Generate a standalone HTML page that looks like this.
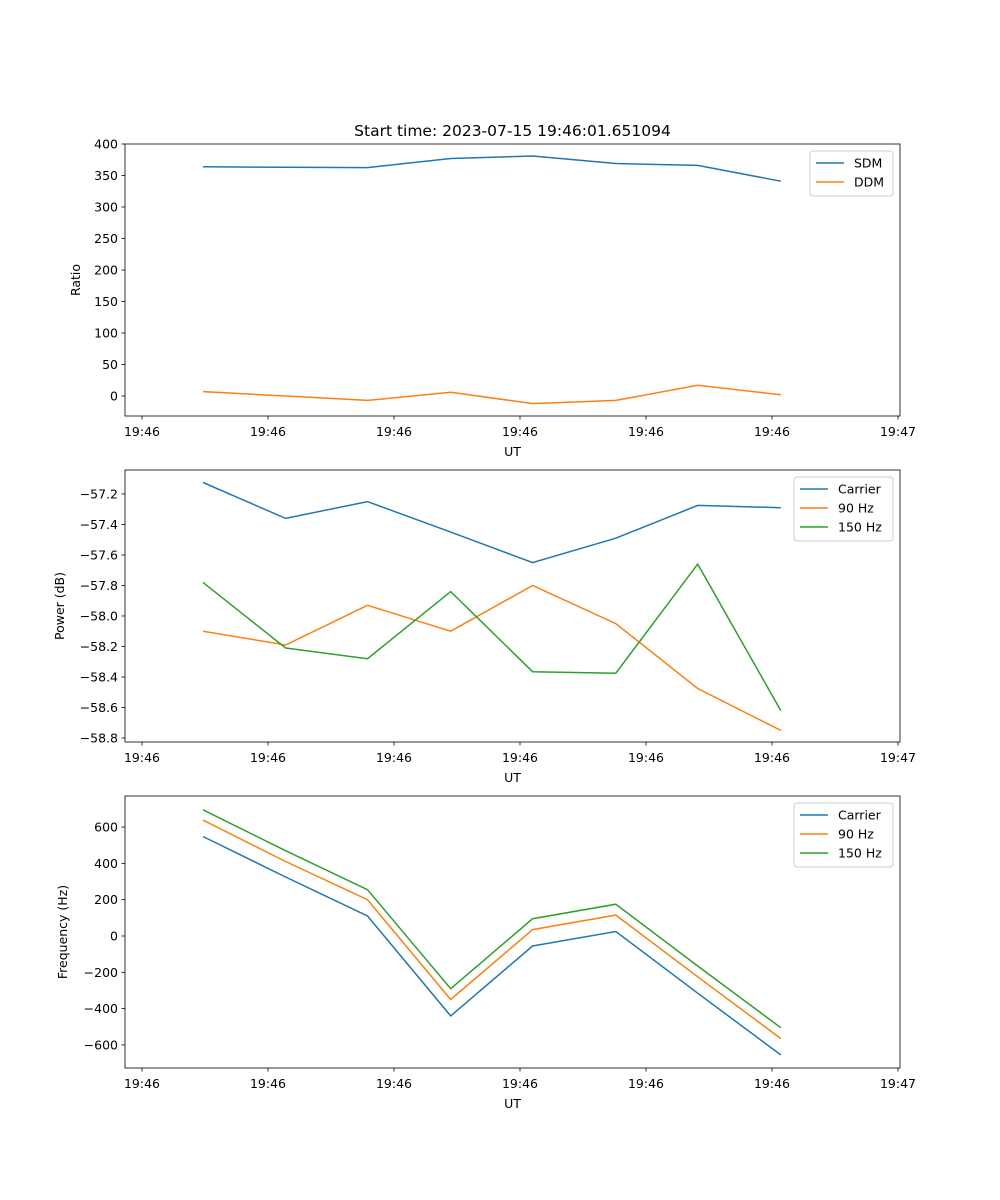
<!DOCTYPE html>
<html><head><meta charset="utf-8"><style>
body{margin:0;background:#fff}
svg{display:block;font-family:"DejaVu Sans","Liberation Sans",sans-serif}
</style></head><body>
<svg id="fig" width="1000" height="1200" viewBox="0 0 1000 1200"></svg>
<script>
const xSecs = [4.84, 11.4, 17.9, 24.5, 31.0, 37.6, 44.1, 50.7];
const xTickSecs = [0, 10, 20, 30, 40, 50, 60];
const xTickLabels = ["19:46","19:46","19:46","19:46","19:46","19:46","19:47"];
const sdm = [364, 363, 362.5, 377, 381, 369, 366, 341];
const ddm = [7, 0, -7, 6, -12, -7, 17, 2];
const ratioTicks = [0,50,100,150,200,250,300,350,400];
const pCarrier = [-57.125, -57.36, -57.25, -57.45, -57.65, -57.49, -57.275, -57.29];
const p90 = [-58.10, -58.19, -57.93, -58.10, -57.80, -58.05, -58.475, -58.75];
const p150 = [-57.78, -58.21, -58.28, -57.84, -58.365, -58.375, -57.66, -58.62];
const powerTicks = [-57.2,-57.4,-57.6,-57.8,-58.0,-58.2,-58.4,-58.6,-58.8];
const fCarrier = [548, 325, 110, -440, -55, 25, -315, -655];
const f90 = [638, 410, 200, -350, 35, 115, -225, -565];
const f150 = [695, 470, 255, -290, 95, 175, -165, -505];
const freqTicks = [600,400,200,0,-200,-400,-600];

const NS="http://www.w3.org/2000/svg";
const svg=document.getElementById('fig');
function mk(tag,attrs,parent){const e=document.createElementNS(NS,tag);for(const k in attrs)e.setAttribute(k,attrs[k]);(parent||svg).appendChild(e);return e;}
const L=125,R=900;
const xs=s=>142+s*12.6;
const C={b:"#1f77b4",o:"#ff7f0e",g:"#2ca02c"};

function panel(name,top,bottom,ymin,ymax,ticks,fmt,ylabel,series,legendW){
  const g=mk('g',{});
  
  
  const ys=v=>bottom-(v-ymin)/(ymax-ymin)*(bottom-top);
  series.forEach(s=>{
    const pts=s.vals.map((v,i)=>xs(xSecs[i]).toFixed(1)+','+ys(v).toFixed(1)).join(' ');
    const p=mk('polyline',{points:pts,fill:'none',stroke:s.color,'stroke-width':1.5},g);
    
    
  });
  const fr=mk('rect',{x:L,y:top,width:R-L,height:bottom-top,fill:'none',stroke:'#000','stroke-width':0.8},g);
  
  
  xTickSecs.forEach((s,i)=>{
    const x=xs(s);
    mk('line',{x1:x,x2:x,y1:bottom,y2:bottom+3.5,stroke:'#000','stroke-width':0.8},g);
    const t=mk('text',{x:x,y:bottom+20,'font-size':12.5,'text-anchor':'middle'},g);
    t.textContent=xTickLabels[i];
    
    
  });
  ticks.forEach(v=>{
    const y=ys(v);
    mk('line',{x1:L,x2:L-3.5,y1:y,y2:y,stroke:'#000','stroke-width':0.8},g);
    const t=mk('text',{x:L-7,y:y+4.5,'font-size':12.5,'text-anchor':'end'},g);
    t.textContent=fmt(v);
    
    
  });
  const xl=mk('text',{x:(L+R)/2,y:bottom+40,'font-size':12.5,'text-anchor':'middle'},g);
  xl.textContent='UT';
  
  
  const yl=mk('text',{x:0,y:0,'font-size':12.5,'text-anchor':'middle',transform:`translate(${ylabel.x},${(top+bottom)/2}) rotate(-90)`},g);
  yl.textContent=ylabel.t;
  
  
  const lx=R-7-legendW, ly=top+7, lh=series.length*19+7;
  const lg=mk('g',{},g);
  
  
  mk('rect',{x:lx,y:ly,width:legendW,height:lh,rx:3,fill:'#fff',stroke:'#ccc','stroke-width':1},lg);
  series.forEach((s,i)=>{
    const yy=ly+12+i*19;
    mk('line',{x1:lx+6,x2:lx+34,y1:yy,y2:yy,stroke:s.color,'stroke-width':1.5},lg);
    const t=mk('text',{x:lx+44,y:yy+4.5,'font-size':12.5},lg);
    t.textContent=s.label;
    
    
  });
}
const title=mk('text',{x:512.5,y:136,'font-size':15.5,'text-anchor':'middle'});
title.textContent='Start time: 2023-07-15 19:46:01.651094';



panel('ratio-panel',144,416,-31.7,400,ratioTicks,v=>String(v),{x:80,t:'Ratio'},
  [{id:'sdm',label:'SDM',vals:sdm,color:C.b},{id:'ddm',label:'DDM',vals:ddm,color:C.o}],83);
panel('power-panel',470,742,-58.826,-57.043,powerTicks,v=>'\u2212'+Math.abs(v).toFixed(1),{x:64,t:'Power (dB)'},
  [{id:'carrier',label:'Carrier',vals:pCarrier,color:C.b},{id:'hz90',label:'90 Hz',vals:p90,color:C.o},{id:'hz150',label:'150 Hz',vals:p150,color:C.g}],99);
panel('frequency-panel',796,1068,-727,771,freqTicks,v=>v<0?'\u2212'+(-v):String(v),{x:67,t:'Frequency (Hz)'},
  [{id:'carrier-freq',label:'Carrier',vals:fCarrier,color:C.b},{id:'hz90-freq',label:'90 Hz',vals:f90,color:C.o},{id:'hz150-freq',label:'150 Hz',vals:f150,color:C.g}],99);
</script>
</body></html>
